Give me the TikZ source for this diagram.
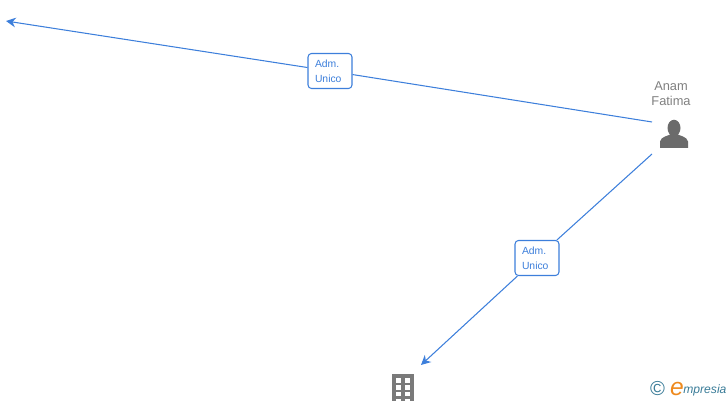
\documentclass[tikz,border=0pt]{standalone}
\usepackage{fontspec}
\setmainfont{Liberation Sans}
\usetikzlibrary{arrows.meta}
\definecolor{linkblue}{HTML}{3D7FDB}
\definecolor{namegray}{HTML}{808080}
\definecolor{icongray}{HTML}{6B6B6B}
\definecolor{towergray}{HTML}{7A7A7A}
\definecolor{logoteal}{HTML}{3A7C98}
\definecolor{logoorange}{HTML}{EE8A1E}
\tikzset{
    link/.style={linkblue, line width=0.6pt},
    rolebox/.style={draw=linkblue, line width=0.6pt, fill=white, rounded corners=2pt,
        minimum width=0.88cm, minimum height=0.70cm, inner sep=0pt, align=left, text width=0.60cm,
        text=linkblue, font=\fontsize{5.9}{8.4}\selectfont},
}

\begin{document}
\begin{tikzpicture}

\useasboundingbox (0, 0) rectangle (14.56, 8);
\clip (0, 0) rectangle (14.56, 8);

% Anchors of the connectors
\coordinate (anamtop) at (13.04, 5.56);
\coordinate (anamlow) at (13.04, 4.92);
\coordinate (farleft) at (0.12, 7.58);
\coordinate (company) at (8.42, 0.70);

% Role boxes
\node[rolebox] (roleleft) at (6.60, 6.58) {Adm.\\Unico};
\node[rolebox] (rolelow) at (10.74, 2.84) {Adm.\\Unico};

% Connectors
\draw[link] (anamtop) -- (roleleft);
\draw[link, -{Stealth[length=5.5pt, width=5.5pt]}] (roleleft) -- (farleft);
\draw[link] (anamlow) -- (rolelow);
\draw[link, -{Stealth[length=5.5pt, width=5.5pt]}] (rolelow) -- (company);

% Person
\node[text=namegray, align=center, inner sep=0pt, font=\fontsize{7.3}{8.5}\selectfont] (anam) at (13.42, 6.13) {Anam\\Fatima};
\fill[icongray] (13.48, 5.44) ellipse (0.13 and 0.165);
\fill[icongray] (13.20, 5.04) -- (13.20, 5.17) .. controls (13.22, 5.27) and (13.36, 5.28) .. (13.42, 5.32)
    -- (13.54, 5.32) .. controls (13.60, 5.28) and (13.74, 5.27) .. (13.76, 5.17) -- (13.76, 5.04) -- cycle;

% Company building
\fill[towergray] (7.84, -0.2) rectangle (8.28, 0.52);
\foreach \y in {0.35, 0.21, 0.08, -0.06} {
    \fill[white] (7.92, \y) rectangle (8.02, \y + 0.09);
    \fill[white] (8.10, \y) rectangle (8.20, \y + 0.09);
}

% Logo
\node[text=logoteal, inner sep=0pt, font=\fontsize{11.5}{11.5}\selectfont] (copyr) at (13.15, 0.22) {©};
\node[text=logoorange, inner sep=0pt, font=\itshape\fontsize{14}{14}\selectfont] (logoe) at (13.54, 0.22) {e};
\node[text=logoteal, inner sep=0pt, anchor=west, font=\itshape\fontsize{6.9}{8}\selectfont] (logoname) at (13.66, 0.20) {mpresia};

\end{tikzpicture}
\end{document}
